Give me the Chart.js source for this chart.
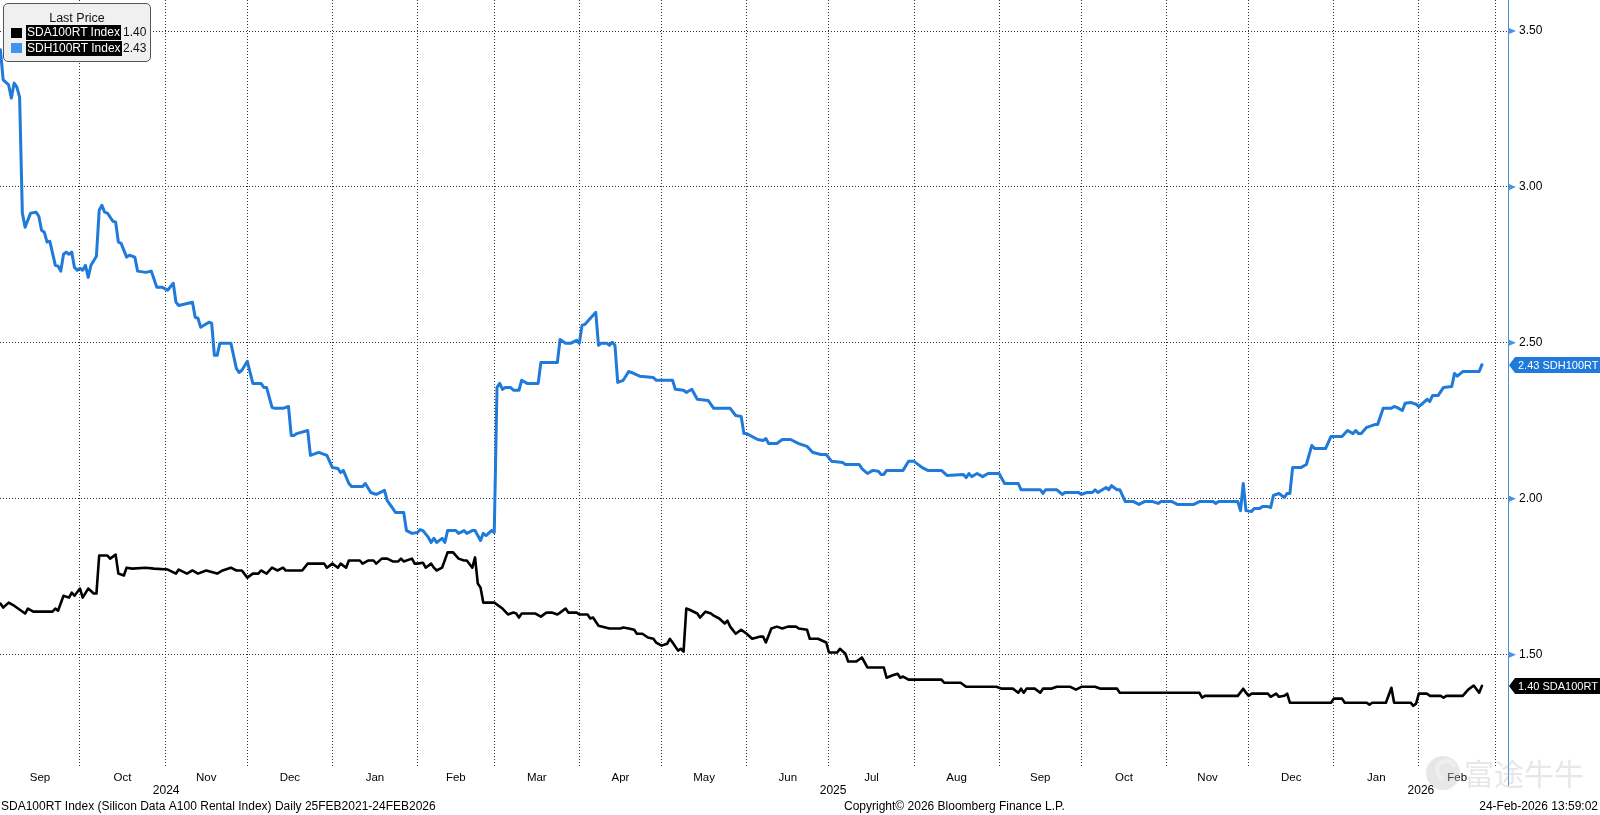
<!DOCTYPE html>
<html>
<head>
<meta charset="utf-8">
<title>SDA100RT / SDH100RT</title>
<script src="https://cdn.jsdelivr.net/npm/chart.js@4.4.1/dist/chart.umd.min.js"></script>
<style>
  html, body { margin: 0; padding: 0; background: #fff; }
  #wrap { position: relative; width: 1600px; height: 815px; }
  #legendBox {
    position: absolute; left: 3px; top: 3px; width: 146px; height: 57px;
    background: #f0f0f0; border: 1px solid #555; border-radius: 5px;
    font: 12px "Liberation Sans", Arial, sans-serif; color: #111;
  }
  #legendBox .ttl { position: absolute; left: 0; width: 146px; top: 7px; text-align: center; line-height: 14px; font-size: 12.5px; }
  #legendBox .sw { position: absolute; left: 7px; width: 11px; height: 10px; }
  #legendBox .nm { position: absolute; left: 22px; height: 15px; line-height: 15px; padding: 0 1px; background: #000; color: #fff; }
  #legendBox .val { position: absolute; left: 119px; height: 15px; line-height: 15px; }
</style>
</head>
<body>
<div id="wrap">
  <canvas id="rentChart" width="1600" height="815"></canvas>
  <div id="legendBox">
    <div class="ttl">Last Price</div>
    <span class="sw" style="top:24px;background:#000"></span>
    <span class="nm" style="top:21px">SDA100RT Index</span>
    <span class="val" style="top:21px">1.40</span>
    <span class="sw" style="top:39px;background:#4193f0"></span>
    <span class="nm" style="top:37px">SDH100RT Index</span>
    <span class="val" style="top:37px">2.43</span>
  </div>
</div>
<script>
// x values = days counted from 1 Sep 2024
const monthStarts = [0, 30, 61, 91, 122, 153, 181, 212, 242, 273, 303, 334, 365, 395, 426, 456, 487, 518, 546];
const monthNames = ['Sep', 'Oct', 'Nov', 'Dec', 'Jan', 'Feb', 'Mar', 'Apr', 'May', 'Jun', 'Jul', 'Aug',
                    'Sep', 'Oct', 'Nov', 'Dec', 'Jan', 'Feb'];
const yearNames = ['2024', '2025', '2026'];
const yearStarts = [0, 122, 487];
const yTicks = [1.5, 2.0, 2.5, 3.0, 3.5];
const xMin = 0.85, xMax = 550.5;
const yMin = 1.143, yMax = 3.5995;

// SDH100RT Index (H100)
const sdhDays = [
  1, 2, 4, 5, 6, 7, 8, 9, 10, 12,
  14, 15, 16, 17, 18, 19, 21, 22, 23, 24,
  25, 26, 27, 28, 29, 30, 31, 32, 33, 34,
  36, 37, 38, 39, 40, 42, 43, 44, 45, 47,
  48, 50, 51, 54, 56, 58, 60, 62, 64, 65,
  66, 71, 72, 73, 74, 77, 78, 79, 80, 81,
  85, 87, 88, 89, 91, 93, 96, 97, 98, 100,
  101, 104, 106, 107, 108, 109, 113, 114, 117, 120,
  122, 124, 125, 126, 128, 129, 133, 134, 136, 137,
  138, 141, 142, 144, 145, 148, 149, 151, 153, 154,
  155, 157, 158, 159, 160, 162, 163, 164, 167, 168,
  170, 171, 173, 174, 176, 177, 178, 180, 181, 182,
  183, 184, 185, 187, 188, 190, 191, 193, 197, 198,
  204, 205, 207, 209, 211, 212, 213, 214, 218, 219,
  220, 222, 223, 224, 225, 226, 228, 230, 231, 234,
  239, 240, 246, 247, 250, 251, 253, 255, 259, 261,
  267, 269, 271, 272, 273, 277, 279, 280, 281, 284,
  286, 289, 292, 295, 297, 300, 302, 304, 308, 309,
  314, 315, 317, 319, 321, 322, 323, 324, 330, 332,
  334, 337, 339, 344, 346, 352, 353, 354, 355, 357,
  359, 361, 365, 367, 372, 373, 380, 381, 382, 386,
  388, 389, 394, 395, 397, 399, 400, 401, 404, 405,
  406, 408, 409, 411, 414, 416, 418, 421, 423, 424,
  428, 430, 436, 438, 443, 444, 445, 452, 453, 454,
  455, 457, 458, 460, 461, 463, 464, 465, 467, 469,
  470, 471, 472, 475, 477, 479, 480, 484, 486, 490,
  492, 494, 495, 496, 497, 499, 502, 503, 505, 508,
  509, 510, 512, 513, 515, 517, 518, 519, 521, 522,
  523, 525, 527, 530, 531, 532, 534, 540, 541
];
const sdhVals = [
  3.44, 3.343, 3.327, 3.285, 3.333, 3.32, 3.288, 2.916, 2.871, 2.916,
  2.919, 2.906, 2.861, 2.855, 2.823, 2.826, 2.749, 2.746, 2.73, 2.784,
  2.791, 2.784, 2.791, 2.742, 2.733, 2.739, 2.733, 2.749, 2.71, 2.749,
  2.778, 2.925, 2.941, 2.919, 2.916, 2.89, 2.887, 2.823, 2.819, 2.775,
  2.781, 2.775, 2.73, 2.726, 2.73, 2.678, 2.678, 2.669, 2.691, 2.63,
  2.62, 2.63, 2.582, 2.579, 2.55, 2.566, 2.563, 2.46, 2.46, 2.499,
  2.499, 2.418, 2.405, 2.412, 2.441, 2.37, 2.37, 2.357, 2.357, 2.293,
  2.29, 2.29, 2.296, 2.203, 2.203, 2.209, 2.219, 2.139, 2.149, 2.139,
  2.1, 2.097, 2.084, 2.091, 2.049, 2.039, 2.039, 2.049, 2.02, 2.017,
  2.014, 2.027, 1.994, 1.969, 1.956, 1.956, 1.898, 1.889, 1.892, 1.901,
  1.898, 1.876, 1.86, 1.873, 1.86, 1.873, 1.86, 1.898, 1.898, 1.889,
  1.898, 1.889, 1.898, 1.898, 1.866, 1.889, 1.882, 1.898, 1.892, 2.357,
  2.37, 2.351, 2.357, 2.357, 2.348, 2.348, 2.38, 2.37, 2.37, 2.437,
  2.437, 2.511, 2.499, 2.499, 2.508, 2.499, 2.556, 2.559, 2.598, 2.492,
  2.499, 2.499, 2.492, 2.502, 2.492, 2.373, 2.38, 2.408, 2.405, 2.393,
  2.389, 2.38, 2.38, 2.351, 2.348, 2.341, 2.351, 2.319, 2.315, 2.29,
  2.29, 2.267, 2.264, 2.209, 2.209, 2.19, 2.187, 2.193, 2.177, 2.177,
  2.19, 2.19, 2.177, 2.168, 2.149, 2.142, 2.142, 2.12, 2.116, 2.11,
  2.11, 2.097, 2.081, 2.091, 2.088, 2.078, 2.078, 2.091, 2.091, 2.12,
  2.12, 2.1, 2.091, 2.091, 2.075, 2.078, 2.068, 2.081, 2.071, 2.081,
  2.071, 2.081, 2.081, 2.049, 2.049, 2.029, 2.029, 2.017, 2.029, 2.029,
  2.014, 2.02, 2.02, 2.014, 2.02, 2.02, 2.029, 2.02, 2.036, 2.029,
  2.042, 2.029, 2.029, 1.991, 1.991, 1.982, 1.991, 1.991, 1.985, 1.991,
  1.991, 1.982, 1.982, 1.991, 1.991, 1.985, 1.991, 1.991, 1.962, 2.049,
  1.962, 1.959, 1.969, 1.969, 1.975, 1.975, 1.972, 2.011, 2.017, 2.004,
  2.017, 2.017, 2.1, 2.1, 2.11, 2.171, 2.161, 2.161, 2.2, 2.2,
  2.219, 2.209, 2.219, 2.209, 2.209, 2.229, 2.238, 2.238, 2.29, 2.29,
  2.296, 2.293, 2.283, 2.306, 2.309, 2.303, 2.296, 2.303, 2.319, 2.312,
  2.331, 2.331, 2.357, 2.36, 2.402, 2.393, 2.408, 2.408, 2.43
];

// SDA100RT Index (A100)
const sdaDays = [
  1, 2, 4, 6, 10, 11, 13, 20, 21, 22,
  24, 26, 27, 28, 30, 31, 33, 35, 36, 37,
  40, 41, 43, 44, 46, 47, 49, 54, 57, 62,
  65, 66, 69, 71, 73, 76, 80, 82, 85, 87,
  89, 91, 93, 95, 96, 98, 100, 102, 104, 105,
  111, 113, 119, 120, 122, 124, 125, 127, 128, 132,
  133, 135, 137, 138, 140, 142, 144, 146, 147, 148,
  151, 152, 153, 155, 156, 158, 159, 160, 162, 164,
  166, 168, 170, 171, 173, 174, 175, 176, 177, 181,
  184, 186, 188, 189, 190, 191, 196, 198, 200, 202,
  204, 205, 207, 208, 211, 212, 215, 216, 217, 219,
  223, 227, 228, 230, 232, 233, 235, 237, 239, 240,
  242, 244, 245, 246, 248, 249, 250, 251, 252, 255,
  256, 258, 260, 261, 263, 265, 266, 267, 269, 271,
  273, 275, 278, 279, 280, 282, 284, 286, 288, 291,
  292, 295, 296, 299, 302, 303, 306, 307, 309, 310,
  313, 315, 317, 323, 324, 326, 328, 329, 330, 332,
  344, 345, 351, 353, 364, 366, 370, 372, 373, 374,
  375, 378, 380, 381, 384, 386, 391, 393, 395, 400,
  402, 408, 409, 438, 439, 440, 452, 454, 455, 456,
  457, 463, 464, 466, 467, 469, 470, 471, 486, 487,
  490, 491, 499, 500, 501, 506, 508, 509, 515, 516,
  517, 518, 521, 522, 526, 527, 528, 534, 536, 538,
  540, 541
];
const sdaVals = [
  1.664, 1.651, 1.667, 1.657, 1.632, 1.648, 1.638, 1.638, 1.648, 1.641,
  1.689, 1.683, 1.699, 1.689, 1.712, 1.683, 1.712, 1.696, 1.696, 1.818,
  1.818, 1.808, 1.821, 1.76, 1.754, 1.779, 1.776, 1.779, 1.776, 1.773,
  1.76, 1.773, 1.76, 1.77, 1.76, 1.77, 1.76, 1.77, 1.779, 1.77,
  1.77, 1.747, 1.76, 1.76, 1.77, 1.76, 1.779, 1.77, 1.779, 1.77,
  1.77, 1.792, 1.792, 1.779, 1.792, 1.779, 1.792, 1.779, 1.802, 1.802,
  1.792, 1.802, 1.802, 1.792, 1.808, 1.808, 1.799, 1.799, 1.808, 1.799,
  1.808, 1.792, 1.792, 1.795, 1.779, 1.792, 1.779, 1.77, 1.779, 1.828,
  1.828, 1.808, 1.802, 1.802, 1.779, 1.812, 1.728, 1.715, 1.667, 1.667,
  1.648, 1.629, 1.635, 1.632, 1.619, 1.632, 1.632, 1.622, 1.635, 1.635,
  1.629, 1.635, 1.648, 1.635, 1.635, 1.629, 1.629, 1.616, 1.619, 1.593,
  1.584, 1.584, 1.587, 1.584, 1.58, 1.567, 1.567, 1.555, 1.551, 1.539,
  1.529, 1.535, 1.551, 1.539, 1.513, 1.519, 1.51, 1.648, 1.645, 1.632,
  1.619, 1.638, 1.632, 1.625, 1.616, 1.6, 1.609, 1.59, 1.567, 1.58,
  1.567, 1.551, 1.558, 1.558, 1.539, 1.584, 1.59, 1.584, 1.59, 1.59,
  1.584, 1.58, 1.551, 1.551, 1.539, 1.507, 1.507, 1.519, 1.503, 1.478,
  1.478, 1.491, 1.459, 1.459, 1.426, 1.433, 1.439, 1.426, 1.43, 1.42,
  1.42, 1.41, 1.41, 1.397, 1.397, 1.391, 1.391, 1.378, 1.391, 1.378,
  1.391, 1.391, 1.378, 1.391, 1.391, 1.397, 1.397, 1.388, 1.397, 1.397,
  1.391, 1.391, 1.378, 1.378, 1.362, 1.368, 1.368, 1.391, 1.378, 1.368,
  1.375, 1.375, 1.365, 1.375, 1.365, 1.368, 1.375, 1.346, 1.346, 1.359,
  1.359, 1.346, 1.346, 1.34, 1.346, 1.346, 1.394, 1.346, 1.346, 1.336,
  1.343, 1.375, 1.375, 1.368, 1.368, 1.362, 1.368, 1.368, 1.388, 1.401,
  1.378, 1.40
];

const BLUE = '#1f7ad9';
const AXIS_BLUE = '#4a93dc';
const GRID = '#333';
const FONT = '"Liberation Sans", Arial, sans-serif';

Chart.defaults.font.family = FONT;
Chart.defaults.font.size = 12;
Chart.defaults.color = '#000';

function toPoints(days, vals) {
  return days.map((d, i) => ({ x: d, y: vals[i] }));
}

// no edge padding: plot goes right to the canvas edges
function noPad(scale) {
  scale.paddingTop = 0;
  scale.paddingBottom = 0;
  scale.paddingLeft = 0;
  scale.paddingRight = 0;
}

// extra drawing: y-axis arrows, year row, footer, last-price tags
const bbgExtras = {
  id: 'bbgExtras',
  afterDraw(chart) {
    const { ctx, scales: { x, y } } = chart;
    ctx.save();

    // axis line continues a bit below the plot
    ctx.strokeStyle = AXIS_BLUE;
    ctx.lineWidth = 1;
    ctx.beginPath();
    ctx.moveTo(y.left + 0.5, chart.chartArea.bottom);
    ctx.lineTo(y.left + 0.5, 786);
    ctx.stroke();

    // small arrow ticks
    ctx.fillStyle = AXIS_BLUE;
    yTicks.forEach(v => {
      const py = y.getPixelForValue(v);
      ctx.beginPath();
      ctx.moveTo(y.left + 1, py - 3);
      ctx.lineTo(y.left + 8, py);
      ctx.lineTo(y.left + 1, py + 3);
      ctx.closePath();
      ctx.fill();
    });

    // years
    ctx.font = '12px ' + FONT;
    ctx.fillStyle = '#000';
    ctx.textAlign = 'center';
    ctx.textBaseline = 'middle';
    yearNames.forEach((t, i) => {
      const a = Math.max(yearStarts[i], xMin);
      const b = Math.min(i + 1 < yearStarts.length ? yearStarts[i + 1] : xMax, xMax);
      ctx.fillText(t, x.getPixelForValue((a + b) / 2), 791);
    });

    // footer
    ctx.textAlign = 'left';
    ctx.fillText('SDA100RT Index (Silicon Data A100 Rental Index) Daily 25FEB2021-24FEB2026', 1, 807);
    ctx.fillText('Copyright\u00A9 2026 Bloomberg Finance L.P.', 844, 807);
    ctx.textAlign = 'right';
    ctx.fillText('24-Feb-2026 13:59:02', 1598, 807);

    // last price tags
    chart.data.datasets.forEach(ds => {
      const last = ds.data[ds.data.length - 1].y;
      const py = Math.round(y.getPixelForValue(last));
      const x0 = y.left + 1;
      ctx.fillStyle = ds.borderColor;
      ctx.beginPath();
      ctx.moveTo(x0, py);
      ctx.lineTo(x0 + 6, py - 8);
      ctx.lineTo(1600, py - 8);
      ctx.lineTo(1600, py + 8);
      ctx.lineTo(x0 + 6, py + 8);
      ctx.closePath();
      ctx.fill();
      ctx.fillStyle = '#fff';
      ctx.textAlign = 'left';
      ctx.font = '11px ' + FONT;
      ctx.fillText(last.toFixed(2) + ' ' + ds.tagName, x0 + 9, py + 0.5);
    });

    // watermark
    ctx.globalAlpha = 0.35;
    ctx.fillStyle = '#b9b9b9';
    ctx.beginPath();
    ctx.arc(1443, 773, 17, 0, Math.PI * 2);
    ctx.fill();
    ctx.beginPath();
    ctx.arc(1446, 770, 9, Math.PI * 0.6, Math.PI * 1.9);
    ctx.lineWidth = 4;
    ctx.strokeStyle = '#fff';
    ctx.stroke();
    ctx.fillStyle = '#b9b9b9';
    ctx.font = '30px "Noto Sans CJK SC"';
    ctx.textAlign = 'left';
    ctx.fillText('富途牛牛', 1464, 774);
    ctx.restore();
  }
};

new Chart(document.getElementById('rentChart'), {
  type: 'line',
  data: {
    datasets: [
      {
        label: 'SDH100RT Index',
        tagName: 'SDH100RT',
        data: toPoints(sdhDays, sdhVals),
        borderColor: BLUE,
        borderWidth: 3
      },
      {
        label: 'SDA100RT Index',
        tagName: 'SDA100RT',
        data: toPoints(sdaDays, sdaVals),
        borderColor: '#000',
        borderWidth: 2.6
      }
    ]
  },
  options: {
    responsive: false,
    animation: false,
    layout: { padding: 0 },
    elements: {
      point: { radius: 0 },
      line: { tension: 0, borderJoinStyle: 'round', borderCapStyle: 'round' }
    },
    plugins: {
      legend: { display: false },
      tooltip: { enabled: false }
    },
    scales: {
      x: {
        type: 'linear',
        min: xMin,
        max: xMax,
        afterBuildTicks: scale => {
          const t = monthStarts.filter(d => d > xMin && d < xMax).map(d => ({ value: d, major: true }));
          monthNames.forEach((n, i) => {
            const a = Math.max(monthStarts[i], xMin);
            const b = Math.min(monthStarts[i + 1], xMax);
            t.push({ value: (a + b) / 2, major: false, name: n });
          });
          t.sort((p, q) => p.value - q.value);
          scale.ticks = t;
        },
        afterFit: scale => { scale.height = 49; noPad(scale); },
        grid: {
          color: c => (c.tick && c.tick.major) ? GRID : 'rgba(0,0,0,0)',
          lineWidth: 1,
          drawTicks: false
        },
        border: { display: false, dash: [1, 2] },
        ticks: {
          autoSkip: false,
          maxRotation: 0,
          minRotation: 0,
          padding: 5,
          font: { size: 11.5 },
          callback: (v, i, ticks) => ticks[i].major ? '' : ticks[i].name
        }
      },
      y: {
        type: 'linear',
        position: 'right',
        min: yMin,
        max: yMax,
        afterBuildTicks: scale => { scale.ticks = yTicks.map(v => ({ value: v })); },
        afterFit: scale => { scale.width = 92; noPad(scale); },
        grid: { color: GRID, lineWidth: 1, drawTicks: false },
        border: { display: true, color: AXIS_BLUE, width: 1, dash: [1, 2] },
        ticks: { padding: 11, callback: v => v.toFixed(2) }
      }
    }
  },
  plugins: [bbgExtras]
});
</script>
</body>
</html>
